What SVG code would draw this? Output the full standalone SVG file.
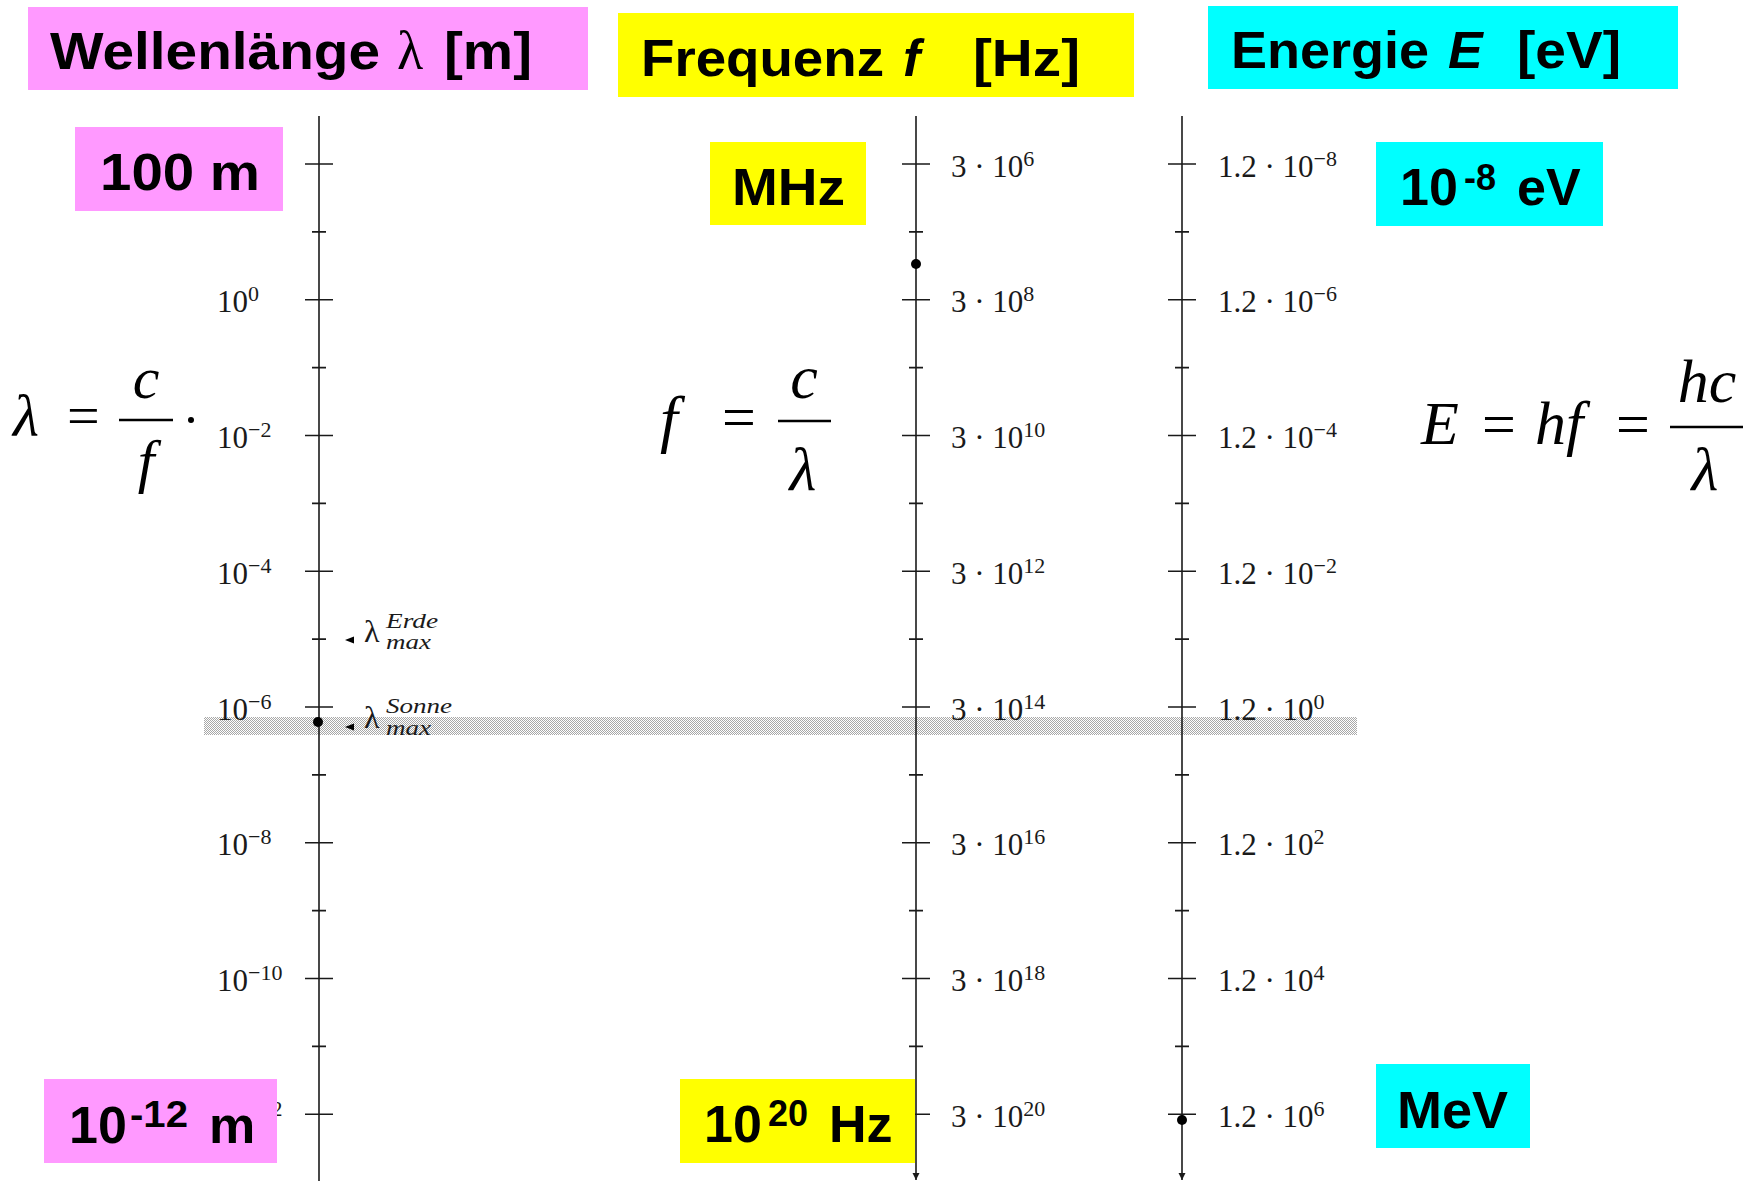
<svg xmlns="http://www.w3.org/2000/svg" width="1757" height="1181" viewBox="0 0 1757 1181">
<style>
.hd{font-family:"Liberation Sans",Arial,sans-serif;font-weight:bold;font-size:52px;fill:#000}
.hs{font-size:36px}
.tl{font-family:"Liberation Serif","Times New Roman",serif;font-size:31px;fill:#1a1a1a}
.sp{font-size:22px}
.fm{font-family:"Liberation Serif","Times New Roman",serif;fill:#000}
.it{font-style:italic}
.ax{stroke:#1a1a1a;stroke-width:1.6;fill:none}
.bar{stroke:#000;stroke-width:2.5}
.lm{font-family:"Liberation Serif","Times New Roman",serif;fill:#1a1a1a}
</style>
<defs>
<pattern id="dots" width="2" height="2" patternUnits="userSpaceOnUse">
<rect x="0" y="0" width="1" height="1" fill="#a8a8a8"/>
<rect x="1" y="1" width="1" height="1" fill="#a8a8a8"/>
</pattern>
<marker id="arr" viewBox="0 0 10 10" refX="10" refY="5" markerWidth="7" markerHeight="9" markerUnits="userSpaceOnUse" orient="auto">
<path d="M0,0 L10,5 L0,10 z" fill="#1a1a1a"/>
</marker>
</defs>
<rect width="1757" height="1181" fill="#fff"/>

<g id="band">
<rect x="204" y="717" width="1153" height="18" fill="url(#dots)" shape-rendering="crispEdges"/>
</g>

<g id="connectors">
<g id="axis-wavelength">
<path class="ax" d="M319,116 V1181"/>
<path class="ax" d="M305,164 H333 M305,299.75 H333 M305,435.5 H333 M305,571.25 H333 M305,707 H333 M305,842.75 H333 M305,978.5 H333 M305,1114.25 H333 M312,231.9 H326 M312,367.6 H326 M312,503.4 H326 M312,639.1 H326 M312,774.9 H326 M312,910.6 H326 M312,1046.4 H326"/>
<circle cx="318" cy="722" r="5" fill="#000"/>
</g>
<g id="axis-frequency">
<path class="ax" d="M916,116 V1180" marker-end="url(#arr)"/>
<path class="ax" d="M902,164 H930 M902,299.75 H930 M902,435.5 H930 M902,571.25 H930 M902,707 H930 M902,842.75 H930 M902,978.5 H930 M902,1114.25 H930 M909,231.9 H923 M909,367.6 H923 M909,503.4 H923 M909,639.1 H923 M909,774.9 H923 M909,910.6 H923 M909,1046.4 H923"/>
<circle cx="916" cy="264" r="5" fill="#000"/>
</g>
<g id="axis-energy">
<path class="ax" d="M1182,116 V1180" marker-end="url(#arr)"/>
<path class="ax" d="M1168,164 H1196 M1168,299.75 H1196 M1168,435.5 H1196 M1168,571.25 H1196 M1168,707 H1196 M1168,842.75 H1196 M1168,978.5 H1196 M1168,1114.25 H1196 M1175,231.9 H1189 M1175,367.6 H1189 M1175,503.4 H1189 M1175,639.1 H1189 M1175,774.9 H1189 M1175,910.6 H1189 M1175,1046.4 H1189"/>
<circle cx="1182" cy="1120" r="5" fill="#000"/>
</g>
<g id="lambda-markers">
<polygon points="345,640 354,636.5 354,643.5" fill="#000"/>
<polygon points="345,727 354,723.5 354,730.5" fill="#000"/>
</g>
</g>

<g id="labels-wavelength">
<text class="tl" x="217" y="312">10<tspan class="sp" dy="-11">0</tspan></text>
<text class="tl" x="217" y="448">10<tspan class="sp" dy="-11">−2</tspan></text>
<text class="tl" x="217" y="584">10<tspan class="sp" dy="-11">−4</tspan></text>
<text class="tl" x="217" y="720">10<tspan class="sp" dy="-11">−6</tspan></text>
<text class="tl" x="217" y="855">10<tspan class="sp" dy="-11">−8</tspan></text>
<text class="tl" x="217" y="991">10<tspan class="sp" dy="-11">−10</tspan></text>
<text class="tl" x="217" y="1127">10<tspan class="sp" dy="-11">−12</tspan></text>
</g>

<g id="labels-frequency">
<text class="tl" x="951" y="177">3 · 10<tspan class="sp" dy="-11">6</tspan></text>
<text class="tl" x="951" y="312">3 · 10<tspan class="sp" dy="-11">8</tspan></text>
<text class="tl" x="951" y="448">3 · 10<tspan class="sp" dy="-11">10</tspan></text>
<text class="tl" x="951" y="584">3 · 10<tspan class="sp" dy="-11">12</tspan></text>
<text class="tl" x="951" y="720">3 · 10<tspan class="sp" dy="-11">14</tspan></text>
<text class="tl" x="951" y="855">3 · 10<tspan class="sp" dy="-11">16</tspan></text>
<text class="tl" x="951" y="991">3 · 10<tspan class="sp" dy="-11">18</tspan></text>
<text class="tl" x="951" y="1127">3 · 10<tspan class="sp" dy="-11">20</tspan></text>
</g>

<g id="labels-energy">
<text class="tl" x="1218" y="177">1.2 · 10<tspan class="sp" dy="-11">−8</tspan></text>
<text class="tl" x="1218" y="312">1.2 · 10<tspan class="sp" dy="-11">−6</tspan></text>
<text class="tl" x="1218" y="448">1.2 · 10<tspan class="sp" dy="-11">−4</tspan></text>
<text class="tl" x="1218" y="584">1.2 · 10<tspan class="sp" dy="-11">−2</tspan></text>
<text class="tl" x="1218" y="720">1.2 · 10<tspan class="sp" dy="-11">0</tspan></text>
<text class="tl" x="1218" y="855">1.2 · 10<tspan class="sp" dy="-11">2</tspan></text>
<text class="tl" x="1218" y="991">1.2 · 10<tspan class="sp" dy="-11">4</tspan></text>
<text class="tl" x="1218" y="1127">1.2 · 10<tspan class="sp" dy="-11">6</tspan></text>
</g>

<g id="lambda-max-labels">
<text class="lm" x="364" y="642" font-size="32">λ</text>
<text class="lm it" x="386" y="628" font-size="22" textLength="52" lengthAdjust="spacingAndGlyphs">Erde</text>
<text class="lm it" x="386" y="649" font-size="22" textLength="45" lengthAdjust="spacingAndGlyphs">max</text>
<text class="lm" x="364" y="728" font-size="32">λ</text>
<text class="lm it" x="386" y="713" font-size="22" textLength="66" lengthAdjust="spacingAndGlyphs">Sonne</text>
<text class="lm it" x="386" y="735" font-size="22" textLength="45" lengthAdjust="spacingAndGlyphs">max</text>
</g>

<g id="formula-lambda">
<text class="fm it" x="13" y="436" font-size="60">λ</text>
<text class="fm" x="67" y="435" font-size="58">=</text>
<line class="bar" x1="119" y1="420" x2="173" y2="420"/>
<text class="fm it" x="146" y="398" font-size="60" text-anchor="middle">c</text>
<text class="fm it" x="146" y="481" font-size="60" text-anchor="middle">f</text>
<circle cx="191" cy="420" r="3" fill="#000"/>
</g>

<g id="formula-f">
<text class="fm it" x="660" y="440" font-size="64">f</text>
<text class="fm" x="722" y="437" font-size="60">=</text>
<line class="bar" x1="778" y1="421" x2="831" y2="421"/>
<text class="fm it" x="804" y="398" font-size="62" text-anchor="middle">c</text>
<text class="fm it" x="803" y="490" font-size="62" text-anchor="middle">λ</text>
</g>

<g id="formula-E">
<text class="fm it" x="1421" y="444" font-size="62">E</text>
<text class="fm" x="1482" y="444" font-size="60">=</text>
<text class="fm it" x="1535" y="444" font-size="62">hf</text>
<text class="fm" x="1616" y="444" font-size="60">=</text>
<line class="bar" x1="1670" y1="427" x2="1743" y2="427"/>
<text class="fm it" x="1707" y="402" font-size="62" text-anchor="middle">hc</text>
<text class="fm it" x="1705" y="490" font-size="62" text-anchor="middle">λ</text>
</g>

<g id="title-wavelength">
<rect x="28" y="7" width="560" height="83" fill="#ff99ff"/>
<text class="hd" x="50" y="69" textLength="330" lengthAdjust="spacingAndGlyphs">Wellenlänge</text>
<text class="fm" x="397" y="69" font-size="54">λ</text>
<text class="hd" x="444" y="69" textLength="88" lengthAdjust="spacingAndGlyphs">[m]</text>
</g>

<g id="title-frequency">
<rect x="618" y="13" width="516" height="84" fill="#ffff00"/>
<text class="hd" x="641" y="76" textLength="243" lengthAdjust="spacingAndGlyphs">Frequenz</text>
<text class="hd it" x="903" y="76">f</text>
<text class="hd" x="973" y="76" textLength="107" lengthAdjust="spacingAndGlyphs">[Hz]</text>
</g>

<g id="title-energy">
<rect x="1208" y="6" width="470" height="83" fill="#00ffff"/>
<text class="hd" x="1231" y="68" textLength="198" lengthAdjust="spacingAndGlyphs">Energie</text>
<text class="hd it" x="1448" y="68">E</text>
<text class="hd" x="1517" y="68" textLength="104" lengthAdjust="spacingAndGlyphs">[eV]</text>
</g>

<g id="box-100m">
<rect x="75" y="127" width="208" height="84" fill="#ff99ff"/>
<text class="hd" x="100" y="190" textLength="160" lengthAdjust="spacingAndGlyphs">100 m</text>
</g>

<g id="box-1e-12m">
<rect x="44" y="1079" width="233" height="84" fill="#ff99ff"/>
<text class="hd" x="69" y="1143">10</text>
<text class="hd hs" x="130" y="1127" textLength="58" lengthAdjust="spacingAndGlyphs">-12</text>
<text class="hd" x="209" y="1143">m</text>
</g>

<g id="box-MHz">
<rect x="710" y="142" width="156" height="83" fill="#ffff00"/>
<text class="hd" x="732" y="205" textLength="113" lengthAdjust="spacingAndGlyphs">MHz</text>
</g>

<g id="box-1e20Hz">
<rect x="680" y="1079" width="235" height="84" fill="#ffff00"/>
<text class="hd" x="704" y="1142">10</text>
<text class="hd hs" x="768" y="1126">20</text>
<text class="hd" x="829" y="1142">Hz</text>
</g>

<g id="box-1e-8eV">
<rect x="1376" y="142" width="227" height="84" fill="#00ffff"/>
<text class="hd" x="1400" y="205">10</text>
<text class="hd hs" x="1464" y="190">-8</text>
<text class="hd" x="1517" y="205">eV</text>
</g>

<g id="box-MeV">
<rect x="1376" y="1064" width="154" height="84" fill="#00ffff"/>
<text class="hd" x="1397" y="1128" textLength="111" lengthAdjust="spacingAndGlyphs">MeV</text>
</g>
</svg>
